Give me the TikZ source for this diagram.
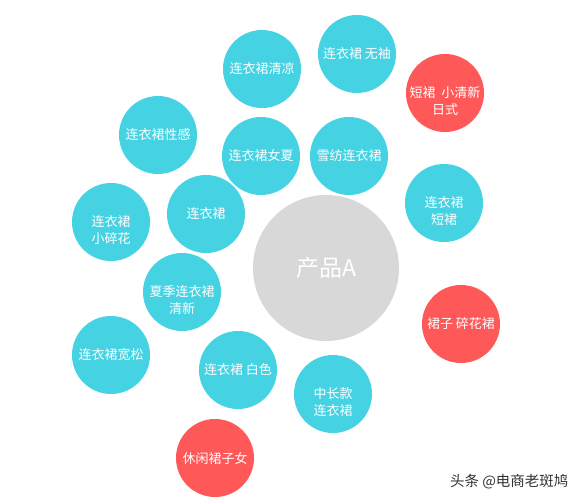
\documentclass[tikz,border=0pt]{standalone}
\usepackage{fontspec}
\newfontfamily\cjk{Noto Sans CJK SC}
\definecolor{cyanb}{RGB}{69,211,227}
\definecolor{redb}{RGB}{255,88,88}
\definecolor{grayb}{RGB}{216,216,216}
\tikzset{
  bub/.style={circle, fill=cyanb, minimum size=78pt, inner sep=0pt, text=white, align=center, font=\cjk\fontsize{13}{16}\selectfont},
  hot/.style={bub, fill=redb},
  two/.style={text=white, align=center, inner sep=0pt, font=\cjk\fontsize{13}{16.5}\selectfont, yshift=-8pt},
  core/.style={circle, fill=grayb, minimum size=146pt, inner sep=0pt, text=white, font=\cjk\fontsize{23}{26}\selectfont},
}
\begin{document}
\begin{tikzpicture}[x=1pt,y=-1pt]
\useasboundingbox (0,0) rectangle (585,503);
\fill[white] (0,0) rectangle (585,503);
\node[core] (c) at (326,268) {产品A};
\node[bub] (n1) at (262,69) {连衣裙清凉};
\node[bub] (n2) at (357,54) {连衣裙 无袖};
\node[hot] (n3) at (445,93) {};
\node[two] (t3) at (n3) {短裙\ \ 小清新\\日式};
\node[bub] (n4) at (158,135) {连衣裙性感};
\node[bub] (n5) at (261,156) {连衣裙女夏};
\node[bub] (n6) at (349,156) {雪纺连衣裙};
\node[bub] (n7) at (444,203) {};
\node[two] (t7) at (n7) {连衣裙\\短裙};
\node[bub] (n8) at (206,214) {连衣裙};
\node[bub] (n9) at (111,222) {};
\node[two] (t9) at (n9) {连衣裙\\小碎花};
\node[bub] (n10) at (182,292) {};
\node[two] (t10) at (n10) {夏季连衣裙\\清新};
\node[hot] (n11) at (461,324) {裙子 碎花裙};
\node[bub] (n12) at (111,355) {连衣裙宽松};
\node[bub] (n13) at (238,370) {连衣裙 白色};
\node[bub] (n14) at (333,394) {};
\node[two] (t14) at (n14) {中长款\\连衣裙};
\node[hot] (n15) at (215,458) {休闲裙子女};
\node[text=black!80, font=\cjk\fontsize{14.5}{16}\selectfont, anchor=east] (wm) at (572,482) {头条 @电商老斑鸠};
\end{tikzpicture}
\end{document}
